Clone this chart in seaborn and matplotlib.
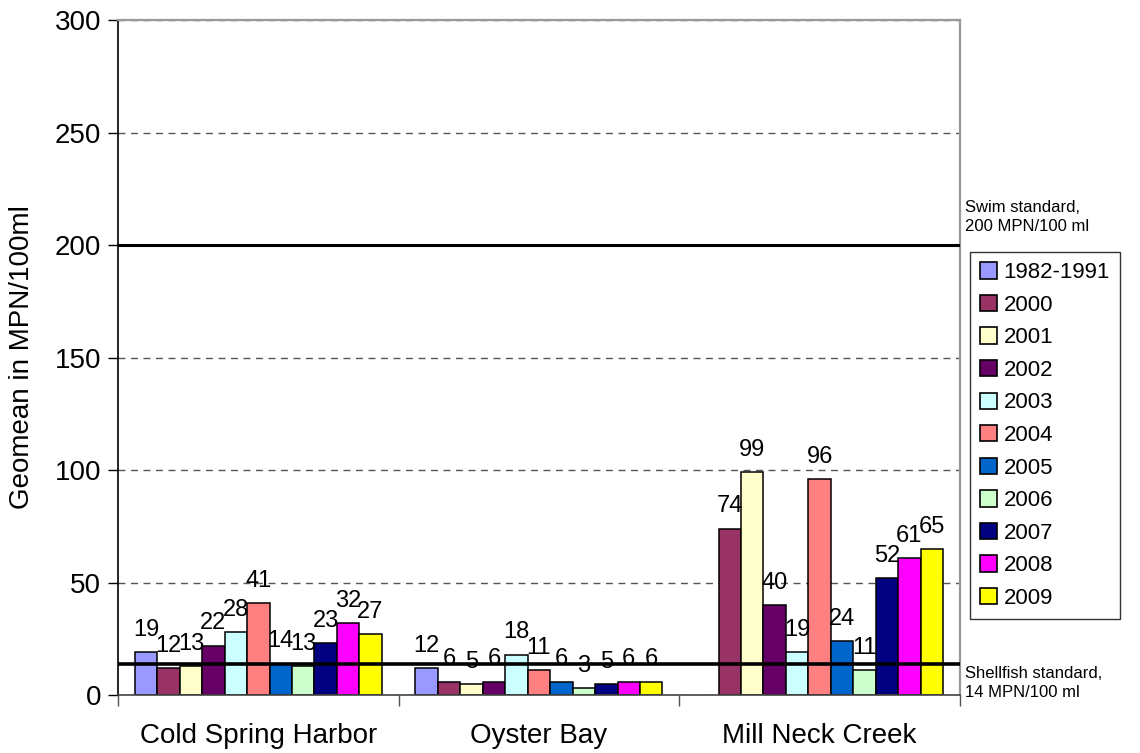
import pandas as pd
import seaborn as sns
import matplotlib.pyplot as plt
from matplotlib.patches import Patch
import matplotlib.transforms as mtransforms

# data
sites = ["Cold Spring Harbor", "Oyster Bay", "Mill Neck Creek"]
years = ["1982-1991", "2000", "2001", "2002", "2003", "2004",
         "2005", "2006", "2007", "2008", "2009"]
cold_spring = [19, 12, 13, 22, 28, 41, 14, 13, 23, 32, 27]
oyster_bay = [12, 6, 5, 6, 18, 11, 6, 3, 5, 6, 6]
mill_neck = [None, 74, 99, 40, 19, 96, 24, 11, 52, 61, 65]
swim_standard = 200
shellfish_standard = 14

colors = ["#9999FF", "#993366", "#FFFFCC", "#660066", "#CCFFFF", "#FF8080",
          "#0066CC", "#CCFFCC", "#000080", "#FF00FF", "#FFFF00"]

rows = []
for site, vals in zip(sites, [cold_spring, oyster_bay, mill_neck]):
    for yr, v in zip(years, vals):
        rows.append({"site": site, "year": yr, "value": v})
df = pd.DataFrame(rows).dropna()

sns.set_style("white")
plt.rcParams["font.family"] = ["Liberation Sans", "DejaVu Sans"]
plt.rcParams["text.color"] = "black"
plt.rcParams["axes.labelcolor"] = "black"
plt.rcParams["xtick.color"] = "black"
plt.rcParams["ytick.color"] = "black"

fig = plt.figure(figsize=(11.4, 7.53), dpi=100)
ax = fig.add_axes([0.1035, 0.077, 0.842 - 0.1035, 0.9734 - 0.077])

sns.barplot(data=df, x="site", y="value", hue="year", order=sites,
            hue_order=years, palette=colors, width=0.88, gap=0,
            edgecolor="black", linewidth=1.1, saturation=1, ax=ax,
            errorbar=None, zorder=2)
ax.get_legend().remove()

for cont in ax.containers:
    ax.bar_label(cont, fmt="%.0f", padding=8, fontsize=17, color="black")

ax.set_ylim(0, 300)
ax.set_xlim(-0.5, 2.5)
ax.set_yticks(range(0, 301, 50))
ax.tick_params(axis="y", labelsize=20, direction="out", length=7,
               width=1, color="black", labelcolor="black", pad=5, left=True)
ax.set_xticks(range(len(sites)))
ax.set_xticklabels(sites)
ax.set_xticks([-0.5, 0.5, 1.5, 2.5], minor=True)
ax.tick_params(axis="x", which="major", labelsize=20, length=0, pad=20,
               labelcolor="black")
ax.tick_params(axis="x", which="minor", direction="out", length=8,
               width=1, color="#555555", bottom=True)

ax.set_axisbelow(True)
ax.yaxis.grid(True, linestyle=(0, (5, 4)), color="#555555", linewidth=1)
ax.xaxis.grid(False)

ax.set_xlabel("")
ax.set_ylabel("Geomean in MPN/100ml", fontsize=20, labelpad=14, color="black")

for side in ["top", "right"]:
    ax.spines[side].set_visible(True)
    ax.spines[side].set_color("#999999")
    ax.spines[side].set_linewidth(1.6)
ax.spines["left"].set_color("black")
ax.spines["left"].set_linewidth(1.2)
ax.spines["bottom"].set_color("#444444")
ax.spines["bottom"].set_linewidth(1.2)

# reference standards
ax.axhline(swim_standard, color="black", linewidth=2.2, zorder=3)
ax.axhline(shellfish_standard, color="black", linewidth=2.6, zorder=3)

trans = mtransforms.blended_transform_factory(ax.transAxes, ax.transData)
ax.text(1.006, swim_standard + 5, "Swim standard,\n200 MPN/100 ml",
        transform=trans, fontsize=12, va="bottom", ha="left",
        linespacing=1.35, color="black")
ax.text(1.006, shellfish_standard - 1, "Shellfish standard,\n14 MPN/100 ml",
        transform=trans, fontsize=12, va="top", ha="left",
        linespacing=1.35, color="black")

handles = [Patch(facecolor=c, edgecolor="black", linewidth=1.2) for c in colors]
leg = fig.legend(handles, years, loc="upper left",
                 bbox_to_anchor=(0.851, 0.665), bbox_transform=fig.transFigure,
                 fontsize=16, frameon=True, fancybox=False, borderaxespad=0,
                 handlelength=0.75, handleheight=0.75, handletextpad=0.3,
                 labelspacing=0.52, borderpad=0.45, labelcolor="black")
leg.get_frame().set_edgecolor("black")
leg.get_frame().set_linewidth(1.0)

fig.savefig("out.png", dpi=100)
